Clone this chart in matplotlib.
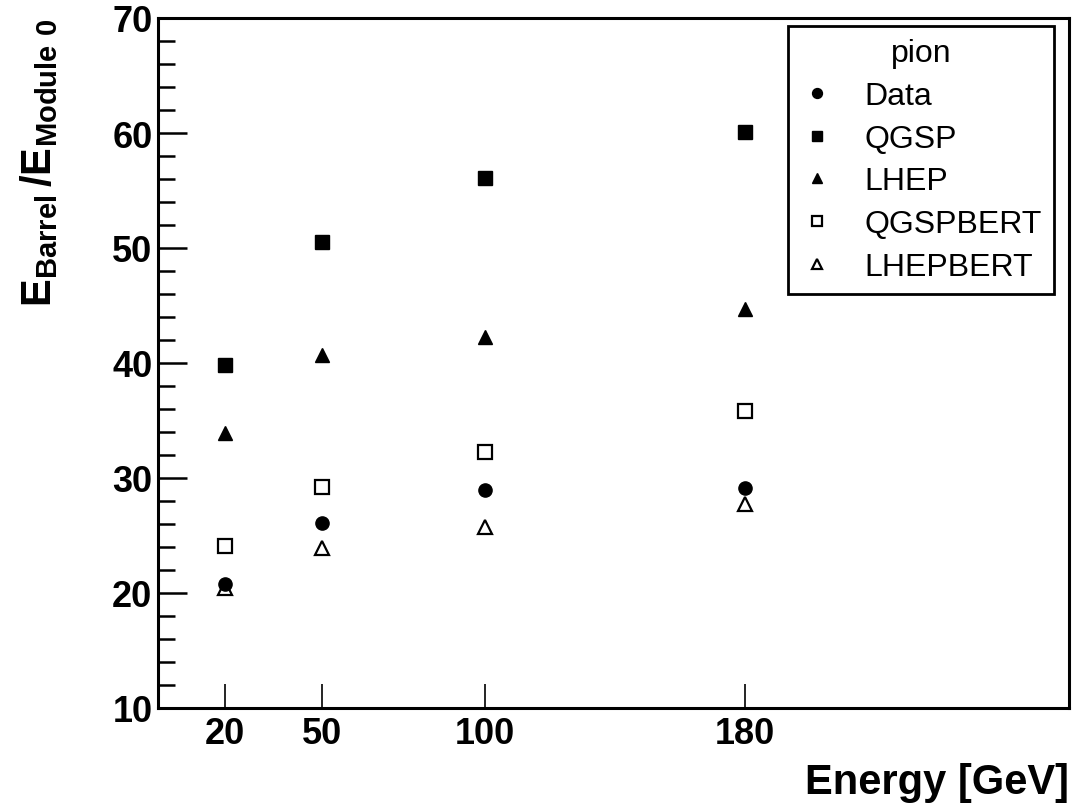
import matplotlib
matplotlib.use("Agg")
import matplotlib.pyplot as plt
from matplotlib.ticker import FixedLocator, MultipleLocator

###########################################################################################################
#
# Data
#
###########################################################################################################

energy = [20, 50, 100, 180]

dataRatio = [20.8, 26.1, 29.0, 29.1]
qgspRatio = [39.8, 50.5, 56.1, 60.1]
lhepRatio = [33.9, 40.7, 42.3, 44.7]
qgspbertRatio = [24.1, 29.2, 32.3, 35.8]
lhepbertRatio = [20.4, 23.9, 25.7, 27.7]

seriesNames = ["Data", "QGSP", "LHEP", "QGSPBERT", "LHEPBERT"]
xTicks = [20, 50, 100, 180]


###########################################################################################################
#
# Making the visualization
#
###########################################################################################################

def main():

    plt.rcParams['font.family'] = ['Liberation Sans', 'DejaVu Sans']
    plt.rcParams['mathtext.fontset'] = 'custom'
    plt.rcParams['mathtext.rm'] = 'Liberation Sans'
    plt.rcParams['mathtext.bf'] = 'Liberation Sans:bold'

    fig = plt.figure(figsize=(10.73, 8.04), dpi=100)
    ax = fig.add_axes([158 / 1073, 1 - 709 / 804, 911 / 1073, 690 / 804])

    # marker styles: filled circle, filled square, filled triangle, open square, open triangle
    styles = [
        dict(marker='o', mfc='black', mec='black', ms=9.5),
        dict(marker='s', mfc='black', mec='black', ms=9.5),
        dict(marker='^', mfc='black', mec='black', ms=10),
        dict(marker='s', mfc='white', mec='black', ms=9.5, mew=1.6),
        dict(marker='^', mfc='white', mec='black', ms=10, mew=1.6),
    ]
    values = [dataRatio, qgspRatio, lhepRatio, qgspbertRatio, lhepbertRatio]

    handles = []
    for name, vals, st in zip(seriesNames, values, styles):
        h, = ax.plot(energy, vals, linestyle='none', label=name, **st)
        handles.append(h)
    # data on top
    handles[0].set_zorder(5)

    ax.set_xlim(-0.5, 279.5)
    ax.set_ylim(10, 70)

    # ticks
    ax.xaxis.set_major_locator(FixedLocator(xTicks))
    ax.yaxis.set_major_locator(MultipleLocator(10))
    ax.yaxis.set_minor_locator(MultipleLocator(2))
    ax.tick_params(axis='x', which='major', direction='in', length=17, width=1.2,
                   labelsize=26, pad=6, top=False)
    ax.tick_params(axis='y', which='major', direction='in', length=21, width=1.8,
                   labelsize=26, pad=4, right=False)
    ax.tick_params(axis='y', which='minor', direction='in', length=12, width=1.8, right=False)
    for lab in ax.get_xticklabels() + ax.get_yticklabels():
        lab.set_fontweight('bold')

    for sp in ax.spines.values():
        sp.set_linewidth(2.2)

    # axis titles
    ax.set_xlabel('Energy [GeV]', fontsize=30, fontweight='bold', loc='right')
    ax.xaxis.set_label_coords(1.0, -0.078)
    ax.set_ylabel(r'$\mathbf{E}_{\mathbf{Barrel}}\,\mathbf{/E}_{\mathbf{Module\ 0}}$',
                  fontsize=30, loc='top')
    ax.yaxis.set_label_coords(-0.108, 1.0)

    leg = ax.legend(handles=handles, title='pion', loc='upper right',
                    bbox_to_anchor=((1054 - 158) / 911, (709 - 27) / 690),
                    fontsize=23, title_fontsize=23, frameon=True, fancybox=False,
                    edgecolor='black', framealpha=1, borderaxespad=0,
                    borderpad=0.38, handlelength=1.0, handletextpad=1.0,
                    labelspacing=0.4, markerscale=0.75)
    leg.get_frame().set_linewidth(2.0)

    fig.savefig('out.png', dpi=100)


main()
